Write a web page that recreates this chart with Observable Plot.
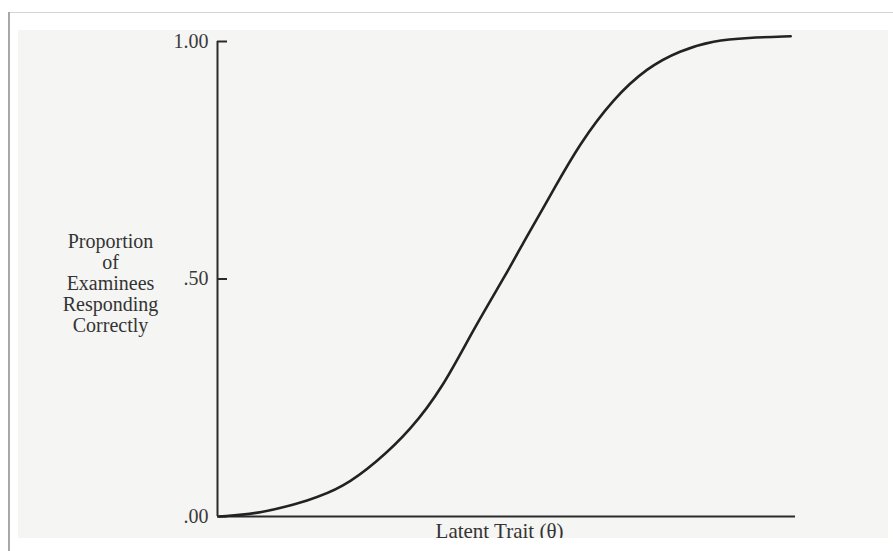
<!DOCTYPE html>
<html>
<head>
<meta charset="utf-8">
<script src="https://cdn.jsdelivr.net/npm/d3@7"></script>
<script src="https://cdn.jsdelivr.net/npm/@observablehq/plot@0.6"></script>
<style>
  html, body { margin: 0; padding: 0; background: #ffffff; }
  #wrap { position: relative; width: 893px; height: 551px; overflow: hidden; }
  .deco { position: absolute; }
  #chart { position: absolute; left: 0; top: 0; }
</style>
</head>
<body>
<div id="wrap">
  <div class="deco" style="left:8px; top:12px; width:885px; height:1px; background:#d4d4d4;"></div>
  <div class="deco" style="left:8px; top:12px; width:2px; height:539px; background:#a8a8a8;"></div>
  <div class="deco" style="left:18px; top:30px; width:870px; height:508px; background:#f5f5f4;"></div>
  <div id="chart"></div>
  <div class="deco" style="left:12px; top:538px; width:881px; height:13px; background:#ffffff;"></div>
</div>
<script>
// Latent trait (theta) values read along the curve, and proportion correct
const theta = [-2.98, -2.56, -2.04, -1.70, -1.35, -1.00, -0.66, -0.35, 0.01, 0.17, 0.35, 0.48, 0.76, 1.11, 1.46, 1.80, 2.15, 2.50, 2.95];
const proportion = [0.000, 0.006, 0.034, 0.061, 0.114, 0.181, 0.272, 0.392, 0.515, 0.575, 0.638, 0.685, 0.785, 0.880, 0.945, 0.981, 1.002, 1.008, 1.011];
const tickValues = [0, 0.5, 1];
const tickLabels = [".00", ".50", "1.00"];
const yLabel = "Proportion\nof\nExaminees\nResponding\nCorrectly";
const xLabel = "Latent Trait (\u03b8)";

const data = theta.map((t, i) => ({theta: t, p: proportion[i]}));
const ink = "#2b2b2b";

const chart = Plot.plot({
  width: 893,
  height: 551,
  marginLeft: 217,
  marginRight: 98,
  marginTop: 41,
  marginBottom: 35,
  style: {background: "transparent", fontFamily: "'Liberation Serif', 'DejaVu Serif', serif", color: ink},
  x: {domain: [-3, 3], axis: null},
  y: {domain: [0, 1], axis: null},
  marks: [
    Plot.axisY(tickValues, {
      tickSize: -10,
      tickPadding: 19,
      tickFormat: (d, i) => tickLabels[i],
      fontSize: 20,
      stroke: ink,
      strokeWidth: 2,
      fill: "#3a3a3a",
      label: null
    }),
    Plot.ruleX([-3], {y1: 0, y2: 1, stroke: ink, strokeWidth: 2}),
    Plot.ruleY([0], {x1: -3, x2: 3, stroke: ink, strokeWidth: 2}),
    Plot.line(data, {x: "theta", y: "p", curve: "basis", stroke: "#222", strokeWidth: 2.6}),
    Plot.text([yLabel], {
      frameAnchor: "left",
      y: [0.5],
      dx: -107,
      dy: 4,
      textAnchor: "middle",
      lineHeight: 1.05,
      fontSize: 20,
      fill: "#333"
    }),
    Plot.text([xLabel], {
      frameAnchor: "bottom",
      dx: -7,
      dy: 21,
      textAnchor: "middle",
      fontSize: 21,
      fill: "#333"
    })
  ]
});
document.getElementById("chart").appendChild(chart);
</script>
</body>
</html>
